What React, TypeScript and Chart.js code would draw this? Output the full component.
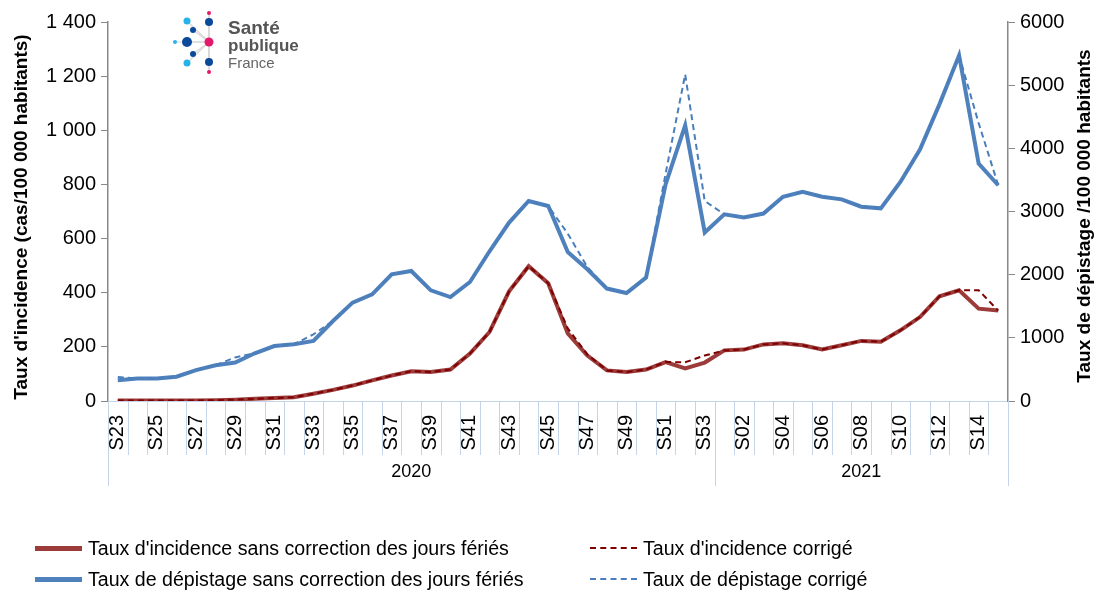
import React, { useEffect, useRef } from "react";
import { Chart, registerables } from "chart.js";

Chart.register(...registerables);

const weeks2020 = [
  "S23","S24","S25","S26","S27","S28","S29","S30","S31","S32","S33","S34","S35","S36","S37","S38",
  "S39","S40","S41","S42","S43","S44","S45","S46","S47","S48","S49","S50","S51","S52","S53",
];
const weeks2021 = ["S01","S02","S03","S04","S05","S06","S07","S08","S09","S10","S11","S12","S13","S14","S15"];
const years = ["2020", "2021"];
const weeks = [...weeks2020, ...weeks2021];

// Taux d'incidence (cas / 100 000 habitants) - axe gauche
const incidenceRaw = [
  2, 2, 2, 2, 2, 3, 5, 8, 11, 14, 27, 41, 57, 76, 94, 110,
  107, 116, 175, 255, 405, 498, 435, 250, 168, 113, 107, 116, 144, 120, 142,
  187, 190, 209, 213, 206, 190, 206, 222, 219, 261, 310, 387, 409, 341, 334,
];
const incidenceCorrected = [
  2, 2, 2, 2, 2, 3, 5, 8, 11, 14, 27, 41, 57, 76, 94, 110,
  107, 116, 175, 255, 405, 498, 435, 268, 172, 113, 107, 116, 144, 143, 168,
  187, 190, 209, 213, 206, 190, 206, 222, 219, 261, 310, 387, 409, 409, 334,
];
// Taux de dépistage (/100 000 habitants) - axe droit
const screeningRaw = [
  328, 355, 355, 385, 490, 565, 608, 755, 870, 898, 950, 1266, 1558, 1689, 2006, 2058,
  1752, 1646, 1884, 2370, 2825, 3166, 3087, 2359, 2085, 1780, 1710, 1952, 3430, 4365, 2668,
  2955, 2905, 2968, 3234, 3313, 3234, 3192, 3076, 3050, 3467, 3980, 4700, 5472, 3760, 3415,
];
const screeningCorrected = [
  380, 355, 355, 385, 490, 565, 690, 755, 870, 898, 1056, 1266, 1558, 1689, 2006, 2058,
  1752, 1646, 1884, 2370, 2825, 3166, 3087, 2650, 2120, 1780, 1710, 1952, 3600, 5170, 3166,
  2955, 2905, 2968, 3234, 3313, 3234, 3192, 3076, 3050, 3467, 3980, 4700, 5472, 4400, 3415,
];

const leftTicks = [0, 200, 400, 600, 800, 1000, 1200, 1400];
const rightTicks = [0, 1000, 2000, 3000, 4000, 5000, 6000];

const legendItems = [
  { label: "Taux d'incidence sans correction des jours fériés", color: "#9b3b3a", dashed: false },
  { label: "Taux d'incidence corrigé", color: "#7f0000", dashed: true },
  { label: "Taux de dépistage sans correction des jours fériés", color: "#4f81bd", dashed: false },
  { label: "Taux de dépistage corrigé", color: "#4a7ebb", dashed: true },
];

const FONT = "'Liberation Sans', Arial, sans-serif";
const SEP = "#c6d4e8";

function fmtLeft(v: number): string {
  if (v >= 1000) return `${Math.floor(v / 1000)} ${String(v % 1000).padStart(3, "0")}`;
  return String(v);
}

const decorPlugin = {
  id: "decor",
  afterDraw(chart: any) {
    const ctx = chart.ctx;
    const xs = chart.scales.x;
    const area = chart.chartArea;
    const n = weeks.length;
    const step = (xs.right - xs.left) / n;
    ctx.save();
    ctx.strokeStyle = SEP;
    ctx.lineWidth = 1;
    for (let i = 0; i <= n; i++) {
      const x = Math.round(xs.left + i * step) + 0.5;
      const isYear = i === 0 || i === n || i === weeks2020.length;
      ctx.beginPath();
      ctx.moveTo(x, area.bottom);
      ctx.lineTo(x, area.bottom + (isYear ? 85 : 54));
      ctx.stroke();
    }
    ctx.fillStyle = "#000";
    ctx.font = `18px ${FONT}`;
    ctx.textAlign = "center";
    ctx.textBaseline = "middle";
    const counts = [weeks2020.length, weeks2021.length];
    let start = 0;
    years.forEach((y, k) => {
      const x0 = xs.left + start * step;
      const x1 = xs.left + (start + counts[k]) * step;
      ctx.fillText(y, (x0 + x1) / 2, area.bottom + 71);
      start += counts[k];
    });
    ctx.font = `bold 19px ${FONT}`;
    ctx.save();
    ctx.translate(22, 217);
    ctx.rotate(-Math.PI / 2);
    ctx.fillText("Taux d'incidence (cas/100 000 habitants)", 0, 0);
    ctx.restore();
    ctx.save();
    ctx.translate(1085, 216);
    ctx.rotate(-Math.PI / 2);
    ctx.fillText("Taux de dépistage /100 000 habitants", 0, 0);
    ctx.restore();
    ctx.restore();
  },
};

function Logo() {
  const cx = 37, cy = 32;
  const dots = [
    { x: 37, y: 3, r: 2, c: "#e5176a" },
    { x: 37, y: 12, r: 4, c: "#0b4a9a" },
    { x: 15, y: 11, r: 3.5, c: "#27b3e7" },
    { x: 21, y: 20, r: 3, c: "#0b4a9a" },
    { x: 3, y: 32, r: 2, c: "#27b3e7" },
    { x: 15, y: 32, r: 5, c: "#0b4a9a" },
    { x: 37, y: 32, r: 4.5, c: "#e5176a" },
    { x: 21, y: 44, r: 3, c: "#0b4a9a" },
    { x: 15, y: 53, r: 3.5, c: "#27b3e7" },
    { x: 37, y: 52, r: 4, c: "#0b4a9a" },
    { x: 37, y: 62, r: 2, c: "#e5176a" },
  ];
  return (
    <svg width={140} height={70} style={{ position: "absolute", left: 172, top: 10 }}>
      <line x1={37} y1={3} x2={37} y2={62} stroke="#d8d8d8" strokeWidth={1.2} />
      {dots.map((d, i) => (
        <line key={"l" + i} x1={cx} y1={cy} x2={d.x} y2={d.y} stroke="#d8d8d8" strokeWidth={1.2} />
      ))}
      {dots.map((d, i) => (
        <circle key={"c" + i} cx={d.x} cy={d.y} r={d.r} fill={d.c} />
      ))}
      <text x={56} y={24} fontFamily={FONT} fontWeight="bold" fontSize={19} fill="#555">Santé</text>
      <text x={56} y={41} fontFamily={FONT} fontWeight="bold" fontSize={17} fill="#555">publique</text>
      <text x={56} y={58} fontFamily={FONT} fontSize={15} fill="#666">France</text>
    </svg>
  );
}

export default function App() {
  const ref = useRef<HTMLCanvasElement | null>(null);
  useEffect(() => {
    document.body.style.margin = "0";
    if (!ref.current) return;
    const chart = new Chart(ref.current, {
      type: "line",
      data: {
        labels: weeks,
        datasets: [
          {
            label: legendItems[1].label,
            data: incidenceCorrected,
            borderColor: legendItems[1].color,
            borderWidth: 2,
            borderDash: [6, 4],
            pointRadius: 0,
            yAxisID: "y",
            order: 0,
          },
          {
            label: legendItems[3].label,
            data: screeningCorrected,
            borderColor: legendItems[3].color,
            borderWidth: 2,
            borderDash: [6, 4],
            pointRadius: 0,
            yAxisID: "y1",
            order: 1,
          },
          {
            label: legendItems[0].label,
            data: incidenceRaw,
            borderColor: legendItems[0].color,
            borderWidth: 4,
            pointRadius: 0,
            yAxisID: "y",
            order: 2,
          },
          {
            label: legendItems[2].label,
            data: screeningRaw,
            borderColor: legendItems[2].color,
            borderWidth: 4,
            pointRadius: 0,
            yAxisID: "y1",
            order: 3,
          },
        ],
      },
      options: {
        animation: false,
        responsive: false,
        maintainAspectRatio: false,
        layout: { padding: { top: 22, left: 0, right: 0, bottom: 0 } },
        plugins: { legend: { display: false }, tooltip: { enabled: false } },
        scales: {
          x: {
            type: "category",
            offset: true,
            grid: { display: false, drawTicks: false },
            border: { display: true, color: SEP, width: 1 },
            ticks: {
              autoSkip: false,
              minRotation: 90,
              maxRotation: 90,
              padding: 14,
              color: "#000",
              font: { family: FONT, size: 20 },
              callback: (_v: any, i: number) => (i % 2 === 0 ? weeks[i] : ""),
            },
            afterFit: (s: any) => {
              s.height = 189;
            },
          },
          y: {
            position: "left",
            min: 0,
            max: 1400,
            afterBuildTicks: (s: any) => {
              s.ticks = leftTicks.map((v) => ({ value: v }));
            },
            grid: { drawOnChartArea: false, drawTicks: true, tickLength: 7, color: "#888" },
            border: { color: "#888", width: 1.5 },
            ticks: {
              padding: 5,
              color: "#000",
              font: { family: FONT, size: 20 },
              callback: (v: any) => fmtLeft(Number(v)),
            },
            afterFit: (s: any) => {
              s.width = 108;
            },
          },
          y1: {
            position: "right",
            min: 0,
            max: 6000,
            afterBuildTicks: (s: any) => {
              s.ticks = rightTicks.map((v) => ({ value: v }));
            },
            grid: { drawOnChartArea: false, drawTicks: true, tickLength: 7, color: "#888" },
            border: { color: "#888", width: 1.5 },
            ticks: {
              padding: 5,
              color: "#000",
              font: { family: FONT, size: 20 },
              callback: (v: any) => String(v),
            },
            afterFit: (s: any) => {
              s.width = 87;
            },
          },
        },
      },
      plugins: [decorPlugin],
    });
    return () => chart.destroy();
  }, []);

  const legendPos = [
    { x: 35, y: 548 },
    { x: 590, y: 548 },
    { x: 35, y: 579 },
    { x: 590, y: 579 },
  ];

  return (
    <div style={{ position: "fixed", left: 0, top: 0, width: 1095, height: 590, background: "#fff" }}>
      <canvas ref={ref} width={1095} height={590} style={{ position: "absolute", left: 0, top: 0 }} />
      <Logo />
      {legendItems.map((it, i) => (
        <div
          key={i}
          style={{
            position: "absolute",
            left: legendPos[i].x,
            top: legendPos[i].y - 12,
            height: 24,
            display: "flex",
            alignItems: "center",
            whiteSpace: "nowrap",
            fontFamily: FONT,
            fontSize: 19.6,
            color: "#000",
          }}
        >
          <span
            style={{
              display: "inline-block",
              width: 47,
              height: 0,
              borderTop: it.dashed ? `2px dashed ${it.color}` : `5px solid ${it.color}`,
              marginRight: 6,
            }}
          />
          <span>{it.label}</span>
        </div>
      ))}
    </div>
  );
}
